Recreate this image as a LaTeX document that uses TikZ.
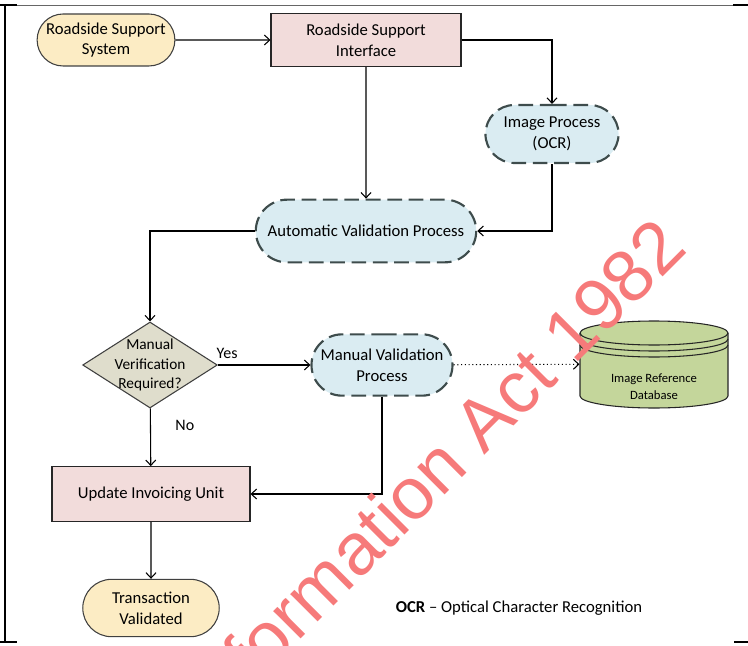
\documentclass[tikz,border=0pt]{standalone}
\usepackage{fontspec}
\setmainfont{Carlito}
\newfontfamily\wmfont{Liberation Sans}
\usepackage{xcolor}
\usetikzlibrary{shapes.geometric,shapes.misc,arrows.meta,positioning}

\definecolor{termfill}{RGB}{252,236,196}
\definecolor{unitfill}{RGB}{242,220,219}
\definecolor{procfill}{RGB}{218,236,242}
\definecolor{decfill}{RGB}{223,221,204}
\definecolor{dbfill}{RGB}{196,214,155}
\definecolor{dashgray}{RGB}{62,76,76}
\definecolor{wmred}{RGB}{246,122,122}

\tikzstyle{term} = [rounded rectangle, draw=black!75, fill=termfill, line width=0.8pt, align=center]
\tikzstyle{unit} = [rectangle, draw=black!85, fill=unitfill, line width=0.8pt, align=center]
\tikzstyle{proc} = [rounded rectangle, draw=dashgray, fill=procfill, line width=1.6pt, dash pattern=on 11pt off 5pt, align=center]
\tikzstyle{decide} = [diamond, draw=black!75, fill=decfill, line width=0.8pt, inner sep=0pt, minimum width=101pt, minimum height=64.5pt]
\tikzstyle{tag} = [font=\fontsize{12}{14}\selectfont]

\begin{document}
\begin{tikzpicture}[->,>={Straight Barb[length=4pt,width=7.5pt]},x=0.75pt,y=0.75pt,line width=0.8pt,font=\fontsize{12.5}{15.5}\selectfont]
  \useasboundingbox (0,0) rectangle (748,-645);

  % table cell border
  \draw[-,line width=1.5pt] (0,-5) -- (17,-5) (5,-5) -- (5,-643) (0,-642) -- (17,-642);
  \draw[-,line width=0.6pt,black!60] (17,-5) -- (733,-5);
  \draw[-,line width=1.5pt] (733,-5) -- (748,-5) (734,-642) -- (748,-642);

  \node[term, minimum width=110pt, minimum height=39pt] (rss) at (106,-40) {Roadside Support\\System};
  \node[unit, minimum width=142.5pt, minimum height=40pt] (rsi) at (366,-40) {Roadside Support\\Interface};
  \node[proc, minimum width=106.5pt, minimum height=43.5pt] (ocr) at (552,-134) {Image Process\\(OCR)};
  \node[proc, minimum width=172pt, minimum height=47pt] (avp) at (366,-231) {Automatic Validation Process};
  \node[decide, label={[align=center,font=\fontsize{11.5}{14.6}\selectfont]center:Manual\\Verification\\Required?}] (dec) at (150,-365) {};
  \node[proc, minimum width=105pt, minimum height=46pt] (mvp) at (382,-365) {Manual Validation\\Process};
  \node[unit, minimum width=148.5pt, minimum height=41pt] (uiu) at (151,-494) {Update Invoicing Unit};
  \node[term, minimum width=109pt, minimum height=43pt] (tv) at (151,-608) {Transaction\\Validated};

  % database
  \fill[dbfill] (580,-333) -- (580,-396) arc[start angle=180,end angle=360,x radius=55.5pt,y radius=9pt]
    -- (728,-333) arc[start angle=0,end angle=180,x radius=55.5pt,y radius=9pt] -- cycle;
  \draw[-,black!85] (580,-333) -- (580,-396) arc[start angle=180,end angle=360,x radius=55.5pt,y radius=9pt]
    -- (728,-333) arc[start angle=0,end angle=180,x radius=55.5pt,y radius=9pt];
  \draw[-,black!85] (580,-333) arc[start angle=180,end angle=360,x radius=55.5pt,y radius=9pt];
  \draw[-,black!85] (580,-339) arc[start angle=180,end angle=360,x radius=55.5pt,y radius=9pt];
  \draw[-,black!85] (580,-345) arc[start angle=180,end angle=360,x radius=55.5pt,y radius=9pt];
  \node[minimum width=111pt, minimum height=66pt] (db) at (654,-364) {};
  \node[align=center, font=\fontsize{9.5}{12.75}\selectfont] (dbtext) at (654,-387) {Image Reference\\Database};

  \node (legend) at (519,-608) {\textbf{OCR} -- Optical Character Recognition};

  \path (rss) edge (rsi);
  \draw (rsi) -| (ocr);
  \path (rsi) edge (avp);
  \draw (ocr) |- (avp);
  \draw (avp) -| (dec);
  \path (dec) edge node[tag, pos=0.1, above=1pt] {Yes} (mvp);
  \path (dec) edge node[tag, pos=0.29, right=15pt] {No} (uiu);
  \draw (mvp) |- (uiu);
  \path (mvp) edge[dotted] (db);
  \path (uiu) edge (tv);

  % watermark
  \begin{scope}
    \clip (0,0) rectangle (748,-645);
    \node[rotate=45, anchor=base east, inner sep=0pt, text=wmred, font=\wmfont\fontsize{55}{55}\selectfont] (wm) at (690,-250) {Information Act 1982};
  \end{scope}
\end{tikzpicture}
\end{document}
